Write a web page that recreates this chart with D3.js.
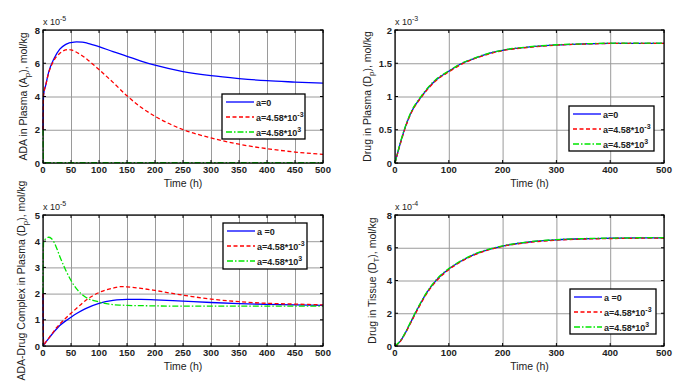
<!DOCTYPE html>
<html>
<head>
<meta charset="utf-8">
<script src="https://cdn.jsdelivr.net/npm/d3@7"></script>
<style>
  body { margin: 0; background: #fff; }
  svg { display: block; font-family: "Liberation Sans", Arial, sans-serif; }
</style>
</head>
<body>
<svg id="chart" width="682" height="389"></svg>
<script>
// ---- data ----
var seriesNames = ["a=0", "a=4.58*10", "a=4.58*10"];
var seriesSup = ["", "-3", "3"];
var seriesNamesLow = ["a =0", "a=4.58*10", "a=4.58*10"];

// ADA in plasma (x1e-5)
var tAda = [0, 1, 5, 10, 20, 30, 40, 45, 50, 60, 70, 80, 100, 125, 150, 175, 200, 250, 300, 350, 400, 450, 500];
var adaBlue = [2.0, 4.1, 4.7, 5.45, 6.3, 6.85, 7.12, 7.2, 7.24, 7.28, 7.27, 7.2, 7.0, 6.7, 6.42, 6.13, 5.88, 5.5, 5.25, 5.08, 4.95, 4.87, 4.8];
var adaRed = [2.0, 4.1, 4.7, 5.4, 6.2, 6.6, 6.8, 6.83, 6.8, 6.66, 6.45, 6.2, 5.62, 4.85, 4.04, 3.35, 2.81, 2.01, 1.51, 1.13, 0.86, 0.66, 0.52];
var adaGreen = [2.0, 0.02, 0.02, 0.02, 0.02, 0.02, 0.02, 0.02, 0.02, 0.02, 0.02, 0.02, 0.02, 0.02, 0.02, 0.02, 0.02, 0.02, 0.02, 0.02, 0.02, 0.02, 0.02];

// Drug in plasma (x1e-3)
var tDp = [0, 10, 20, 30, 50, 75, 100, 125, 150, 175, 200, 250, 300, 350, 400, 450, 500];
var dpBlue = [0, 0.3, 0.56, 0.76, 1.01, 1.24, 1.38, 1.5, 1.58, 1.65, 1.695, 1.745, 1.775, 1.79, 1.8, 1.8, 1.8];
var dpRed = [0, 0.29, 0.55, 0.75, 1.0, 1.23, 1.37, 1.49, 1.575, 1.64, 1.69, 1.74, 1.772, 1.788, 1.798, 1.8, 1.8];
var dpGreen = [0, 0.31, 0.57, 0.77, 1.02, 1.25, 1.385, 1.505, 1.585, 1.652, 1.698, 1.748, 1.778, 1.792, 1.802, 1.803, 1.803];

// ADA-drug complex in plasma (x1e-5)
var tCx = [0, 1, 5, 10, 15, 20, 25, 30, 40, 50, 60, 75, 100, 125, 140, 150, 175, 200, 250, 300, 350, 400, 450, 500];
var cxBlue = [2.0, 0.05, 0.15, 0.28, 0.42, 0.55, 0.67, 0.78, 0.95, 1.1, 1.24, 1.42, 1.63, 1.74, 1.77, 1.78, 1.78, 1.76, 1.71, 1.66, 1.62, 1.59, 1.57, 1.55];
var cxRed = [2.0, 0.05, 0.15, 0.29, 0.44, 0.58, 0.72, 0.84, 1.05, 1.25, 1.44, 1.72, 2.04, 2.21, 2.27, 2.26, 2.2, 2.12, 1.94, 1.79, 1.69, 1.63, 1.6, 1.57];
var cxGreen = [2.0, 3.95, 4.1, 4.15, 4.1, 3.95, 3.7, 3.42, 2.92, 2.5, 2.18, 1.88, 1.68, 1.58, 1.56, 1.55, 1.54, 1.53, 1.52, 1.52, 1.52, 1.52, 1.52, 1.52];

// Drug in tissue (x1e-4)
var tDt = [0, 10, 20, 30, 40, 50, 60, 75, 100, 125, 150, 175, 200, 250, 300, 350, 400, 450, 500];
var dtBlue = [0, 0.3, 0.85, 1.5, 2.15, 2.75, 3.3, 3.95, 4.7, 5.22, 5.62, 5.9, 6.1, 6.35, 6.48, 6.55, 6.58, 6.6, 6.6];
var dtRed = [0, 0.28, 0.82, 1.46, 2.1, 2.7, 3.25, 3.9, 4.66, 5.19, 5.6, 5.88, 6.08, 6.33, 6.46, 6.53, 6.56, 6.58, 6.59];
var dtGreen = [0, 0.32, 0.88, 1.54, 2.19, 2.79, 3.34, 3.99, 4.73, 5.25, 5.65, 5.92, 6.12, 6.37, 6.5, 6.56, 6.59, 6.61, 6.62];

var colors = ["#0000ff", "#ff0000", "#00e600"];
var dashes = [null, "4,2.5", "6,2,1.5,2"];

var svg = d3.select("#chart");

var panels = [
  { box: [43, 323, 30, 163], yMax: 8, yTicks: [0, 2, 4, 6, 8], xTicks: d3.range(0, 501, 50), exp: "-5",
    t: tAda, ys: [adaBlue, adaRed, adaGreen], names: seriesNames,
    ylab: ["ADA in Plasma (A", "p", "), mol/kg"], labX: 27, legend: [222, 94, 83, 45] },
  { box: [395, 664, 30, 163], yMax: 2, yTicks: [0, 0.5, 1, 1.5, 2], xTicks: d3.range(0, 501, 100), exp: "-3",
    t: tDp, ys: [dpBlue, dpRed, dpGreen], names: seriesNames,
    ylab: ["Drug in Plasma (D", "p", "), mol/kg"], labX: 371, legend: [569, 106, 85, 45] },
  { box: [43, 323, 215, 346], yMax: 5, yTicks: [0, 1, 2, 3, 4, 5], xTicks: d3.range(0, 501, 50), exp: "-5",
    t: tCx, ys: [cxBlue, cxRed, cxGreen], names: seriesNamesLow,
    ylab: ["ADA-Drug Complex in Plasma (D", "p", "), mol/kg"], labX: 25, legend: [223, 223, 84, 46] },
  { box: [395, 664, 215, 346], yMax: 8, yTicks: [0, 2, 4, 6, 8], xTicks: d3.range(0, 501, 100), exp: "-4",
    t: tDt, ys: [dtBlue, dtRed, dtGreen], names: seriesNamesLow,
    ylab: ["Drug in Tissue (D", "T", "), mol/kg"], labX: 376, legend: [570, 289, 86, 45] }
];

var drawPanel = function (p) {
  var b = p.box;
  var x = d3.scaleLinear().domain([0, 500]).range([b[0], b[1]]);
  var y = d3.scaleLinear().domain([0, p.yMax]).range([b[3], b[2]]);
  var g = svg.append("g");

  g.append("rect").attr("x", b[0]).attr("y", b[2])
    .attr("width", b[1] - b[0]).attr("height", b[3] - b[2]).attr("fill", "#fff");

  // grid
  g.append("g").attr("transform", `translate(0,${b[3]})`)
    .call(d3.axisBottom(x).tickValues(p.xTicks).tickSize(-(b[3] - b[2])).tickFormat(""))
    .call(function (s) { s.select(".domain").remove(); })
    .selectAll("line").attr("stroke", "#9a9a9a");
  g.append("g").attr("transform", `translate(${b[0]},0)`)
    .call(d3.axisLeft(y).tickValues(p.yTicks).tickSize(-(b[1] - b[0])).tickFormat(""))
    .call(function (s) { s.select(".domain").remove(); })
    .selectAll("line").attr("stroke", "#9a9a9a");

  // curves
  var line = d3.line().curve(d3.curveMonotoneX);
  p.ys.forEach(function (vals, i) {
    g.append("path")
      .attr("d", line(p.t.map(function (t, k) { return [x(t), y(vals[k])]; })))
      .attr("fill", "none")
      .attr("stroke", colors[i])
      .attr("stroke-width", 1.3)
      .attr("stroke-dasharray", dashes[i]);
  });

  // box + inward ticks
  g.append("rect").attr("x", b[0]).attr("y", b[2])
    .attr("width", b[1] - b[0]).attr("height", b[3] - b[2])
    .attr("fill", "none").attr("stroke", "#000").attr("stroke-width", 1.2);
  var tk = 3;
  p.xTicks.forEach(function (v) {
    g.append("line").attr("x1", x(v)).attr("x2", x(v)).attr("y1", b[3]).attr("y2", b[3] - tk).attr("stroke", "#000");
    g.append("line").attr("x1", x(v)).attr("x2", x(v)).attr("y1", b[2]).attr("y2", b[2] + tk).attr("stroke", "#000");
  });
  p.yTicks.forEach(function (v) {
    g.append("line").attr("x1", b[0]).attr("x2", b[0] + tk).attr("y1", y(v)).attr("y2", y(v)).attr("stroke", "#000");
    g.append("line").attr("x1", b[1]).attr("x2", b[1] - tk).attr("y1", y(v)).attr("y2", y(v)).attr("stroke", "#000");
  });

  // tick labels
  g.selectAll(".xt").data(p.xTicks).enter().append("text")
    .attr("x", function (d) { return x(d); }).attr("y", b[3] + 10)
    .attr("text-anchor", "middle").attr("font-size", 9.5).attr("font-weight", "bold").attr("fill", "#222")
    .text(function (d) { return d; });
  g.selectAll(".yt").data(p.yTicks).enter().append("text")
    .attr("x", b[0] - 3).attr("y", function (d) { return y(d) + 3.5; })
    .attr("text-anchor", "end").attr("font-size", 9.5).attr("font-weight", "bold").attr("fill", "#222")
    .text(function (d) { return d; });

  // exponent
  var ex = g.append("text").attr("x", b[0]).attr("y", b[2] - 5)
    .attr("font-size", 9).attr("fill", "#222");
  ex.append("tspan").text("x 10");
  ex.append("tspan").attr("dy", -4).attr("font-size", 7).text(p.exp);

  // axis labels
  g.append("text").attr("x", (b[0] + b[1]) / 2).attr("y", b[3] + 24)
    .attr("text-anchor", "middle").attr("font-size", 10.5).attr("fill", "#222")
    .text("Time (h)");
  var yl = g.append("text")
    .attr("transform", `translate(${p.labX},${(b[2] + b[3]) / 2}) rotate(-90)`)
    .attr("text-anchor", "middle").attr("font-size", 10.5).attr("fill", "#222");
  yl.append("tspan").text(p.ylab[0]);
  yl.append("tspan").attr("dy", 3).attr("font-size", 8).text(p.ylab[1]);
  yl.append("tspan").attr("dy", -3).text(p.ylab[2]);

  // legend
  var L = p.legend;
  var lg = g.append("g");
  lg.append("rect").attr("x", L[0]).attr("y", L[1]).attr("width", L[2]).attr("height", L[3])
    .attr("fill", "#fff").attr("stroke", "#000").attr("stroke-width", 1.3);
  p.names.forEach(function (nm, i) {
    var ry = L[1] + 8 + i * 15;
    lg.append("line").attr("x1", L[0] + 4).attr("x2", L[0] + 32).attr("y1", ry).attr("y2", ry)
      .attr("stroke", colors[i]).attr("stroke-width", 1.3).attr("stroke-dasharray", dashes[i]);
    var tx = lg.append("text").attr("x", L[0] + 34).attr("y", ry + 3.5)
      .attr("font-size", 9).attr("font-weight", "bold").attr("fill", "#222");
    tx.append("tspan").text(nm);
    if (seriesSup[i]) {
      tx.append("tspan").attr("dy", -4).attr("font-size", 7).text(seriesSup[i]);
    }
  });
};

panels.forEach(drawPanel);
</script>
</body>
</html>
